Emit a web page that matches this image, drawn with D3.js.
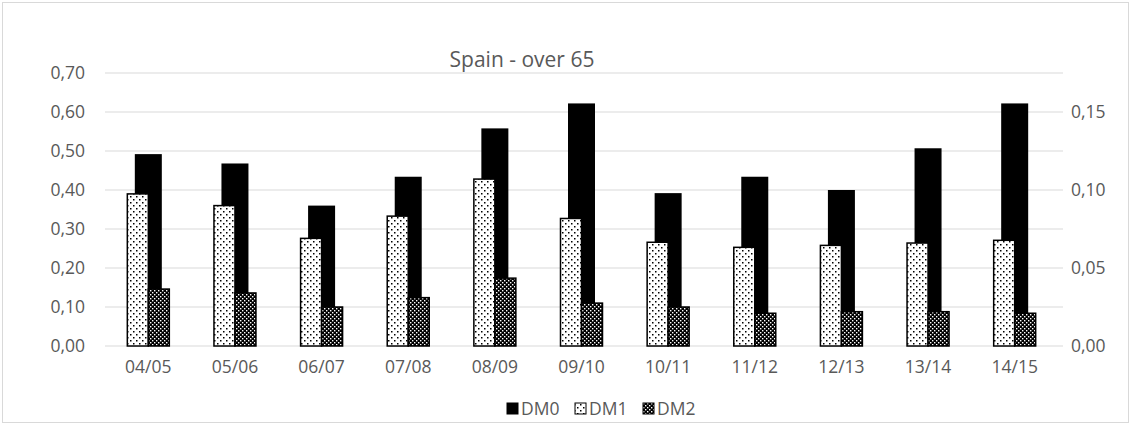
<!DOCTYPE html>
<html><head><meta charset="utf-8">
<script src="https://cdn.jsdelivr.net/npm/d3@7"></script>
<style>body{margin:0;background:#fff;font-family:"Open Sans",sans-serif;}</style>
</head><body><div id="vis"></div>
<script>
// data
const categories = ["04/05","05/06","06/07","07/08","08/09","09/10","10/11","11/12","12/13","13/14","14/15"];
const dm0 = [0.492,0.468,0.360,0.434,0.558,0.622,0.392,0.434,0.400,0.507,0.622];
const dm1 = [0.390,0.360,0.276,0.333,0.428,0.327,0.266,0.253,0.258,0.264,0.271];
const dm2 = [0.0365,0.034,0.025,0.031,0.0435,0.0275,0.025,0.021,0.022,0.022,0.021];
const leftTicks = [0,0.1,0.2,0.3,0.4,0.5,0.6,0.7];
const rightTicks = [0,0.025,0.05,0.075,0.1,0.125,0.15,0.175];

const W = 1131, H = 425;
const M = {left: 105, right: 73, top: 73, bottom: 79};
const FS = 17.5;
const svg = d3.select("#vis").append("svg").attr("width", W).attr("height", H);
svg.append("rect").attr("x",2.5).attr("y",2.5).attr("width",W-5).attr("height",H-5)
  .attr("fill","#fff").attr("stroke","#d9d9d9");

const defs = svg.append("defs");
const dots = defs.append("pattern").attr("id","dots").attr("patternUnits","userSpaceOnUse")
  .attr("width",6).attr("height",6);
dots.append("rect").attr("width",6).attr("height",6).attr("fill","#fff");
dots.append("rect").attr("x",1).attr("y",1).attr("width",1.5).attr("height",1.5).attr("fill","#000");
dots.append("rect").attr("x",4).attr("y",4).attr("width",1.5).attr("height",1.5).attr("fill","#000");
const chk = defs.append("pattern").attr("id","chk").attr("patternUnits","userSpaceOnUse")
  .attr("width",4).attr("height",4);
chk.append("rect").attr("width",4).attr("height",4).attr("fill","#000");
chk.append("rect").attr("x",0).attr("y",0).attr("width",1.4).attr("height",1.4).attr("fill","#fff");
chk.append("rect").attr("x",2).attr("y",2).attr("width",1.4).attr("height",1.4).attr("fill","#fff");

const x = d3.scaleBand().domain(categories).range([M.left, W - M.right]);
const yL = d3.scaleLinear().domain([0,0.7]).range([H - M.bottom, M.top]);
const yR = d3.scaleLinear().domain([0,0.175]).range([H - M.bottom, M.top]);

const g = svg.append("g");
// gridlines
g.selectAll(".grid").data(leftTicks).enter().append("line")
  .attr("x1", M.left).attr("x2", W - M.right)
  .attr("y1", d => yL(d)).attr("y2", d => yL(d))
  .attr("stroke", "#d9d9d9").attr("stroke-width", 1);

// left axis labels
g.selectAll(".lt").data(leftTicks).enter().append("text")
  .attr("x", M.left - 20).attr("y", d => yL(d)).attr("dy","0.35em")
  .attr("text-anchor","end").attr("font-size",FS).attr("fill","#595959")
  .text(d => d3.format(".2f")(d).replace(".", ","));
// right axis tick marks and labels
g.selectAll(".rtk").data(rightTicks).enter().append("line")
  .attr("x1", W - M.right).attr("x2", W - M.right + 5)
  .attr("y1", d => yR(d)).attr("y2", d => yR(d)).attr("stroke","#d9d9d9");
g.selectAll(".rt").data(rightTicks.filter((d,i) => i % 2 === 0)).enter().append("text")
  .attr("x", W - M.right + 13).attr("y", d => yR(d)).attr("dy","0.35em")
  .attr("font-size",FS).attr("fill","#595959")
  .text(d => d3.format(".2f")(d).replace(".", ","));

// bars
const bw = x.bandwidth();
const sub = 21;
g.selectAll(".dm0").data(categories).enter().append("rect")
  .attr("x", (d,i) => x(d) + bw/2 - 13.5).attr("width", 27)
  .attr("y", (d,i) => yL(dm0[i])).attr("height", (d,i) => yL(0) - yL(dm0[i]))
  .attr("fill","#000");
g.selectAll(".dm1").data(categories).enter().append("rect")
  .attr("x", (d,i) => x(d) + bw/2 - sub).attr("width", sub)
  .attr("y", (d,i) => yL(dm1[i])).attr("height", (d,i) => yL(0) - yL(dm1[i]))
  .attr("fill","url(#dots)").attr("stroke","#000").attr("stroke-width",1.5);
g.selectAll(".dm2").data(categories).enter().append("rect")
  .attr("x", (d,i) => x(d) + bw/2).attr("width", sub)
  .attr("y", (d,i) => yR(dm2[i])).attr("height", (d,i) => yR(0) - yR(dm2[i]))
  .attr("fill","url(#chk)").attr("stroke","#000").attr("stroke-width",1.5);

// x labels
g.selectAll(".xl").data(categories).enter().append("text")
  .attr("x", d => x(d) + bw/2).attr("y", H - M.bottom + 27)
  .attr("text-anchor","middle").attr("font-size",FS).attr("fill","#595959").text(d => d);

// title
svg.append("text").attr("x", 522).attr("y", 67).attr("text-anchor","middle")
  .attr("font-size",21).attr("fill","#595959").text("Spain - over 65");

// legend
const legend = [{n:"DM0",f:"#000"},{n:"DM1",f:"url(#dots)"},{n:"DM2",f:"url(#chk)"}];
const lg = svg.append("g").attr("transform","translate(507,403)");
legend.forEach((d,i) => {
  const gx = i * 68;
  lg.append("rect").attr("x", gx).attr("y", 0).attr("width", 11).attr("height", 11)
    .attr("fill", d.f).attr("stroke","#000").attr("stroke-width",1);
  lg.append("text").attr("x", gx + 14).attr("y", 6).attr("dy","0.35em")
    .attr("font-size",FS).attr("fill","#595959").text(d.n);
});
</script></body></html>
